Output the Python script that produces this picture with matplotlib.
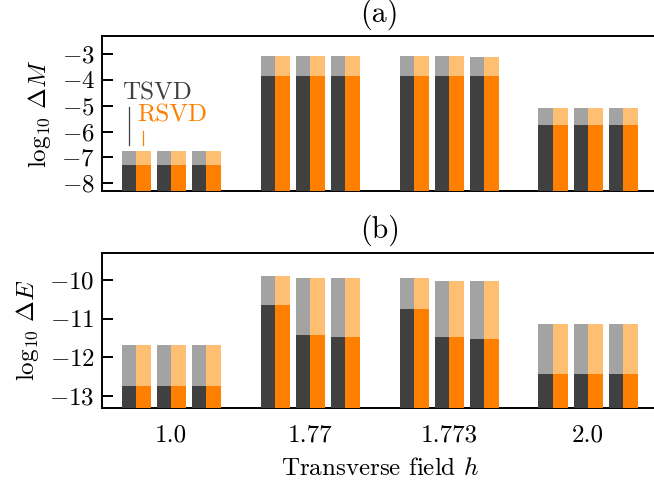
import numpy as np
import matplotlib
matplotlib.use("Agg")
import matplotlib.pyplot as plt

plt.rcParams["font.family"] = ["cmr10", "DejaVu Serif"]
plt.rcParams["mathtext.fontset"] = "cm"
plt.rcParams["axes.formatter.use_mathtext"] = True
plt.rcParams["font.size"] = 18

fields = ["1.0", "1.77", "1.773", "2.0"]
n_runs = 3

# log10 errors, 3 runs per field. "_hi" = light top, "_lo" = dark part
dM_tsvd_hi = [-6.74, -6.74, -6.74, -3.09, -3.09, -3.09, -3.09, -3.09, -3.10, -5.08, -5.08, -5.08]
dM_tsvd_lo = [-7.29, -7.29, -7.29, -3.84, -3.84, -3.84, -3.84, -3.84, -3.84, -5.74, -5.74, -5.74]
dM_rsvd_hi = [-6.74, -6.74, -6.74, -3.09, -3.09, -3.09, -3.09, -3.09, -3.10, -5.08, -5.08, -5.08]
dM_rsvd_lo = [-7.29, -7.29, -7.29, -3.84, -3.84, -3.84, -3.84, -3.84, -3.84, -5.74, -5.74, -5.74]

dE_tsvd_hi = [-11.68, -11.68, -11.68, -9.89, -9.95, -9.95, -9.96, -10.02, -10.04, -11.15, -11.15, -11.15]
dE_tsvd_lo = [-12.73, -12.73, -12.73, -10.65, -11.42, -11.47, -10.75, -11.48, -11.52, -12.43, -12.43, -12.43]
dE_rsvd_hi = [-11.68, -11.68, -11.68, -9.89, -9.95, -9.95, -9.96, -10.02, -10.02, -11.15, -11.15, -11.15]
dE_rsvd_lo = [-12.73, -12.73, -12.73, -10.65, -11.42, -11.47, -10.75, -11.48, -11.52, -12.43, -12.43, -12.43]

DARK = "#404040"
ORANGE = "#ff8000"
LIGHT_DARK = "#a3a3a3"
LIGHT_ORANGE = "#ffbf73"

pair_off = np.array([-0.252, 0.0, 0.252])
bw = 0.105
xc = (np.arange(len(fields))[:, None] + pair_off[None, :]).ravel()
x_t = xc - bw / 2
x_r = xc + bw / 2
base = -30.0

fig = plt.figure(figsize=(6.54, 4.82), dpi=100)
ax1 = fig.add_axes([0.1555, 0.6037, 0.850, 0.3216])
ax2 = fig.add_axes([0.1555, 0.1541, 0.850, 0.3216])


def draw(ax, t_hi, t_lo, r_hi, r_lo):
    for x, vals, col in [(x_t, t_hi, LIGHT_DARK), (x_r, r_hi, LIGHT_ORANGE),
                         (x_t, t_lo, DARK), (x_r, r_lo, ORANGE)]:
        v = np.array(vals)
        ax.bar(x, v - base, bottom=base, width=bw, color=col,
               linewidth=0, zorder=3)
    ax.set_xlim(-0.5, 3.5)
    ax.spines["right"].set_visible(False)
    for s in ["top", "bottom", "left"]:
        ax.spines[s].set_linewidth(1.4)
    ax.tick_params(axis="y", direction="in", length=8, width=1.4, pad=5)
    ax.tick_params(axis="x", length=0, pad=12)


draw(ax1, dM_tsvd_hi, dM_tsvd_lo, dM_rsvd_hi, dM_rsvd_lo)
ax1.set_ylim(-8.3, -2.3)
ax1.set_yticks([-8, -7, -6, -5, -4, -3])
ax1.set_xticks([])
ax1.set_title("(a)", pad=10)
ax1.set_ylabel(r"$\log_{10}\,\Delta M$", labelpad=6)

# method labels pointing at the first pair
ax1.plot([x_t[0], x_t[0]], [-6.52, -5.04], color=DARK, lw=0.9, zorder=4)
ax1.plot([x_r[0], x_r[0]], [-6.52, -5.97], color=ORANGE, lw=0.9, zorder=4)
ax1.text(x_t[0] - bw / 2, -4.77, "TSVD", color=DARK, ha="left", va="baseline")
ax1.text(x_r[0] - bw * 0.4, -5.62, "RSVD", color=ORANGE, ha="left", va="baseline")

draw(ax2, dE_tsvd_hi, dE_tsvd_lo, dE_rsvd_hi, dE_rsvd_lo)
ax2.set_ylim(-13.3, -9.3)
ax2.set_yticks([-13, -12, -11, -10])
ax2.set_xticks(np.arange(len(fields)))
ax2.set_xticklabels(fields)
ax2.set_title("(b)", pad=11)
ax2.set_ylabel(r"$\log_{10}\,\Delta E$", labelpad=6)
ax2.set_xlabel(r"Transverse field $h$", labelpad=8)

fig.savefig("out.png", dpi=100)
